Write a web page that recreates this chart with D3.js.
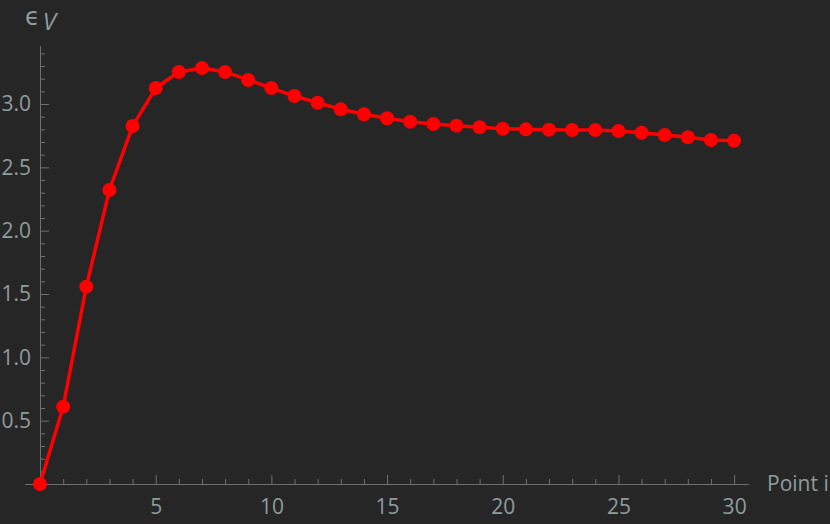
<!DOCTYPE html>
<html>
<head>
<meta charset="utf-8">
<script src="https://cdn.jsdelivr.net/npm/d3@7"></script>
<style>
  html, body { margin: 0; padding: 0; background: #262626; }
  svg { display: block; }
</style>
</head>
<body>
<svg id="chart" width="830" height="524"></svg>
<script>
// Point index and the epsilon_V value
const pointIndex = d3.range(0, 31);
const epsV = [
    0, 0.610, 1.558, 2.321, 2.826, 3.126, 3.253, 3.284, 3.253, 3.190,
    3.126, 3.063, 3.010, 2.958, 2.919, 2.887, 2.860, 2.842, 2.829, 2.816,
    2.805, 2.800, 2.797, 2.795, 2.795, 2.787, 2.773, 2.755, 2.737, 2.716,
    2.710
];
const xMajorTicks = [5, 10, 15, 20, 25, 30];
const xMinorTicks = d3.range(1, 31).filter(v => v % 5 !== 0);
const yMajorTicks = [0.5, 1.0, 1.5, 2.0, 2.5, 3.0];
const yMinorTicks = d3.range(1, 35).map(v => v / 10).filter(v => Math.round(v * 10) % 5 !== 0);

const svg = d3.select('#chart');
const font = '"Open Sans", "DejaVu Sans", sans-serif';
const labelColor = '#8f9c9c';
const axisColor = '#6c7070';

// scales - axes cross at (0, 0)
const x = d3.scaleLinear().domain([-0.65, 30.6]).range([25, 748]);
const y = d3.scaleLinear().domain([0, 3.458]).range([484, 46]);

// y axis: minor ticks first, then major ones with labels
const yMinor = svg.append('g')
    .attr('transform', `translate(${x(0)},0)`)
    .call(d3.axisLeft(y).tickValues(yMinorTicks).tickSize(-5).tickSizeOuter(0).tickFormat(''));
const yMajor = svg.append('g')
    .attr('transform', `translate(${x(0)},0)`)
    .call(d3.axisLeft(y).tickValues(yMajorTicks).tickSize(-9).tickSizeOuter(0)
        .tickPadding(9).tickFormat(d3.format('.1f')));

// x axis
const xMinor = svg.append('g')
    .attr('transform', `translate(0,${y(0)})`)
    .call(d3.axisBottom(x).tickValues(xMinorTicks).tickSize(-5).tickSizeOuter(0).tickFormat(''));
const xMajor = svg.append('g')
    .attr('transform', `translate(0,${y(0)})`)
    .call(d3.axisBottom(x).tickValues(xMajorTicks).tickSize(-9).tickSizeOuter(0)
        .tickPadding(15).tickFormat(d3.format('d')));

[yMinor, yMajor, xMinor, xMajor].forEach(g => {
    g.selectAll('path, line').attr('stroke', axisColor).attr('stroke-width', 1);
    g.selectAll('text')
        .style('font-family', font)
        .style('font-size', '21px')
        .attr('fill', labelColor);
});
xMajor.selectAll('text').attr('dy', '0.71em');

// axis labels
svg.append('text')
    .attr('x', 767)
    .attr('y', 491)
    .style('font-family', font)
    .style('font-size', '21px')
    .attr('fill', labelColor)
    .text('Point i');

const yLabel = svg.append('text')
    .attr('x', 25)
    .attr('y', 25)
    .style('font-family', font)
    .style('font-size', '24px')
    .attr('fill', labelColor);
yLabel.append('tspan').text('\u03F5');
yLabel.append('tspan')
    .attr('dx', 3)
    .attr('dy', 5)
    .style('font-style', 'italic')
    .style('font-size', '24px')
    .text('V');

// data line and markers
const line = d3.line()
    .x((d, i) => x(pointIndex[i]))
    .y(d => y(d));

svg.append('path')
    .datum(epsV)
    .attr('d', line)
    .attr('fill', 'none')
    .attr('stroke', '#ff0000')
    .attr('stroke-width', 3.5)
    .attr('stroke-linejoin', 'round');

svg.selectAll('.pt')
    .data(epsV)
    .enter()
    .append('circle')
    .attr('class', 'pt')
    .attr('cx', (d, i) => x(pointIndex[i]))
    .attr('cy', d => y(d))
    .attr('r', 7)
    .attr('fill', '#ff0000');
</script>
</body>
</html>
